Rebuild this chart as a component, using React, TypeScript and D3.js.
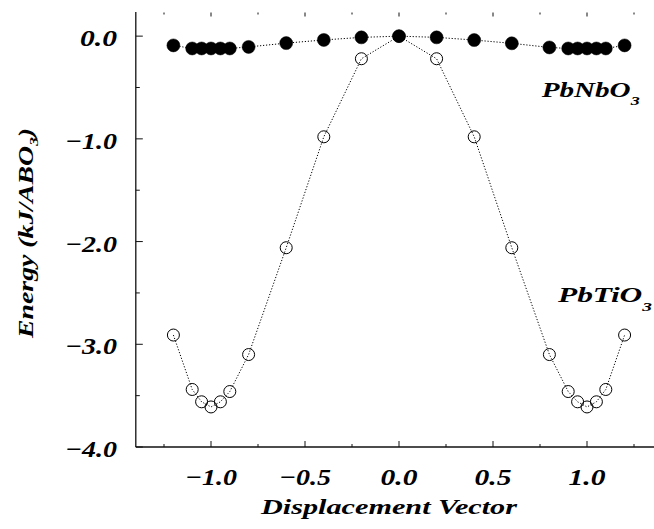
import React from "react";
import * as d3 from "d3";

const displacement = [-1.2, -1.1, -1.05, -1.0, -0.95, -0.9, -0.8, -0.6, -0.4, -0.2, 0, 0.2, 0.4, 0.6, 0.8, 0.9, 0.95, 1.0, 1.05, 1.1, 1.2];
const pbTiO3 = [-2.91, -3.44, -3.56, -3.61, -3.56, -3.46, -3.1, -2.06, -0.98, -0.22, 0, -0.22, -0.98, -2.06, -3.1, -3.46, -3.56, -3.61, -3.56, -3.44, -2.91];
const pbNbO3 = [-0.09, -0.12, -0.12, -0.12, -0.12, -0.12, -0.105, -0.068, -0.037, -0.012, 0, -0.012, -0.038, -0.07, -0.11, -0.12, -0.12, -0.12, -0.12, -0.12, -0.09];
const xTickLabels = [-1.0, -0.5, 0.0, 0.5, 1.0];
const xTicksAll = [-1.25, -1.0, -0.75, -0.5, -0.25, 0, 0.25, 0.5, 0.75, 1.0, 1.25];
const yTickLabels = [0, -1, -2, -3, -4];
const yTicksAll = [0, -0.5, -1, -1.5, -2, -2.5, -3, -3.5, -4];

const W = 654;
const H = 529;
const FONT = "'Liberation Serif', Tinos, 'Times New Roman', Times, 'DejaVu Serif', serif";

export default function App() {
  const x = d3.scaleLinear().domain([-1.4, 1.4]).range([135.8, 662.2]);
  const y = d3.scaleLinear().domain([-4, 0.235]).range([447, 12]);
  const fmt = d3.format(".1f");

  const tiPts = displacement.map((d, i) => [x(d), y(pbTiO3[i])] as [number, number]);
  const nbPts = displacement.map((d, i) => [x(d), y(pbNbO3[i])] as [number, number]);
  const line = d3.line();

  const isMajor = (v: number) => Math.abs(v * 2 - Math.round(v * 2)) < 1e-6;
  const yMajor = (v: number) => Math.abs(v - Math.round(v)) < 1e-6;
  const labelW = (v: number) => (v < 0 ? 52 : 37);

  const textStyle = {
    fontFamily: FONT,
    fontWeight: "bold" as const,
    fontStyle: "italic" as const,
    fill: "#000",
  };

  return (
    <svg width={W} height={H} style={{ position: "absolute", left: 0, top: 0, background: "#fff" }}>
      {/* axes */}
      <line x1={x(-1.4)} x2={x(1.4)} y1={y(-4)} y2={y(-4)} stroke="#111" strokeWidth={1.3} />
      <line x1={x(-1.4)} x2={x(-1.4)} y1={y(-4)} y2={y(0.235)} stroke="#111" strokeWidth={1.3} />

      {/* bottom ticks */}
      {xTicksAll.map((v) => (
        <line key={"bt" + v} x1={x(v)} x2={x(v)} y1={y(-4)} y2={y(-4) - (isMajor(v) ? 6 : 3)} stroke="#111" strokeWidth={1} />
      ))}
      {/* top ticks */}
      {xTicksAll.map((v) => (
        <line key={"tt" + v} x1={x(v)} x2={x(v)} y1={y(0.235) + 0.5} y2={y(0.235) + (isMajor(v) ? 4.5 : 2.5)} stroke="#111" strokeWidth={1} />
      ))}
      {/* left ticks */}
      {yTicksAll.map((v) => (
        <line key={"lt" + v} x1={x(-1.4)} x2={x(-1.4) + (yMajor(v) ? 7 : 4)} y1={y(v)} y2={y(v)} stroke="#111" strokeWidth={1} />
      ))}

      {/* y tick labels */}
      {yTickLabels.map((v) => (
        <text
          key={"yl" + v}
          x={117}
          y={y(v) + 10}
          textAnchor="end"
          fontSize={23}
          textLength={labelW(v)}
          lengthAdjust="spacingAndGlyphs"
          style={textStyle}
        >
          {fmt(v)}
        </text>
      ))}

      {/* x tick labels */}
      {xTickLabels.map((v) => (
        <text
          key={"xl" + v}
          x={x(v)}
          y={485}
          textAnchor="middle"
          fontSize={23}
          textLength={labelW(v)}
          lengthAdjust="spacingAndGlyphs"
          style={textStyle}
        >
          {fmt(v)}
        </text>
      ))}

      {/* axis titles */}
      <text x={389} y={514} textAnchor="middle" fontSize={22} textLength={256} lengthAdjust="spacingAndGlyphs" style={textStyle}>
        Displacement Vector
      </text>
      <text transform="translate(33, 233) rotate(-90)" textAnchor="middle" fontSize={21} textLength={210} lengthAdjust="spacingAndGlyphs" style={textStyle}>
        Energy (kJ/ABO
        <tspan fontSize={13} dy={5}>3</tspan>
        <tspan dy={-5}>)</tspan>
      </text>

      {/* series labels */}
      <text x={541.7} y={96.7} fontSize={21} textLength={98} lengthAdjust="spacingAndGlyphs" style={textStyle}>
        PbNbO
        <tspan fontSize={13} dy={8}>3</tspan>
      </text>
      <text x={558} y={301.7} fontSize={21} textLength={94} lengthAdjust="spacingAndGlyphs" style={textStyle}>
        PbTiO
        <tspan fontSize={13} dy={9}>3</tspan>
      </text>

      {/* PbTiO3 */}
      <path d={line(tiPts) || ""} fill="none" stroke="#000" strokeWidth={1} strokeDasharray="1.2,1.8" />
      {tiPts.map((p, i) => (
        <circle key={"ti" + i} cx={p[0]} cy={p[1]} r={6} fill="none" stroke="#000" strokeWidth={1} />
      ))}

      {/* PbNbO3 */}
      <path d={line(nbPts) || ""} fill="none" stroke="#000" strokeWidth={1} strokeDasharray="1.2,1.8" />
      {nbPts.map((p, i) => (
        <circle key={"nb" + i} cx={p[0]} cy={p[1]} r={6.5} fill="#000" stroke="#000" strokeWidth={0.5} />
      ))}
    </svg>
  );
}
